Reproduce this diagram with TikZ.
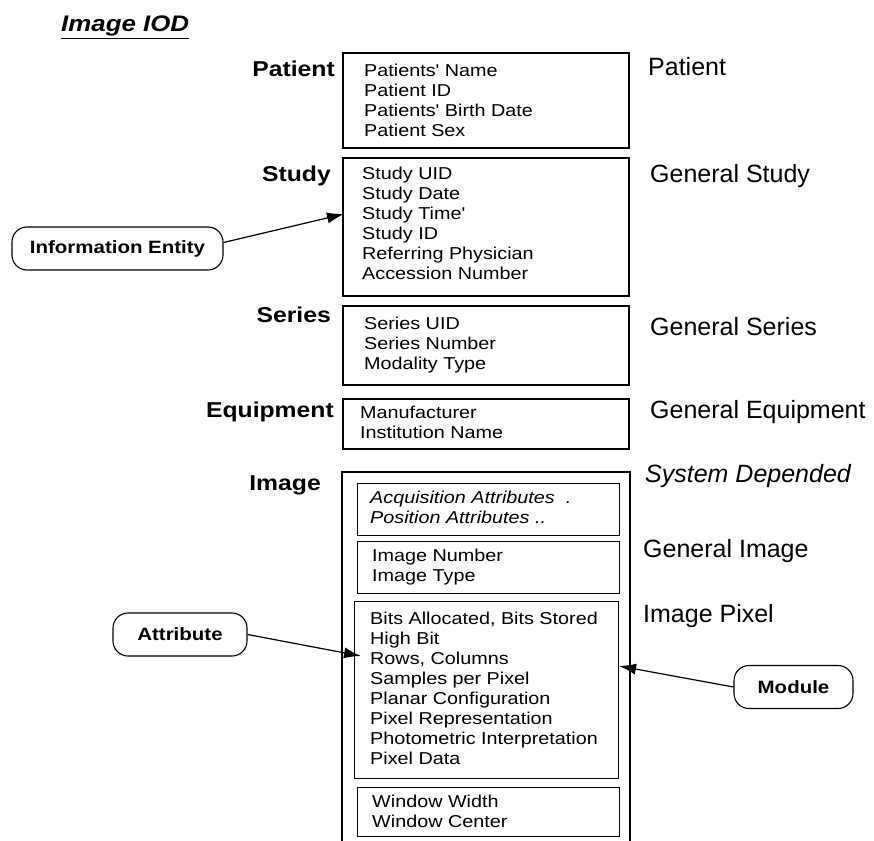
\documentclass[tikz,border=0pt]{standalone}
\usepackage{fontspec}
\setmainfont{Liberation Sans}
\newfontfamily\widefont[FakeStretch=1.15]{Liberation Sans}
\usepackage{tikz}
\usetikzlibrary{positioning}
\usetikzlibrary{arrows.meta}

\begin{document}
\begin{tikzpicture}[
          x=1pt, y=-1pt, % 以像素为单位, y 轴向下
          modbox/.style={draw, line width=1.8pt, anchor=north west, inner sep=0pt},
          subbox/.style={draw, line width=1pt, anchor=north west, inner sep=0pt},
          attrtext/.style={font=\widefont\fontsize{17.2}{20}\selectfont, align=left, inner sep=0pt},
          ielabel/.style={font=\widefont\bfseries\fontsize{21.5}{24}\selectfont, anchor=east, inner sep=0pt},
          modlabel/.style={font=\fontsize{25}{28}\selectfont, anchor=west, inner sep=0pt},
          bubble/.style={draw, rounded corners=15pt, line width=1.1pt, minimum height=43pt,
                         inner sep=0pt, font=\widefont\bfseries\fontsize{17.8}{20}\selectfont},
          pointer/.style={-{Latex[length=17pt,width=11pt]}, line width=1.2pt}
      ]
        \fill[white] (0,0) rectangle (874,840);
        \useasboundingbox (0,0) rectangle (874,840);

        % 标题
        \node[font=\widefont\bfseries\itshape\fontsize{22.5}{24}\selectfont, anchor=base west,
              inner sep=0pt] (title) at (61,32) {\underline{Image IOD}};

        % 上面四个模块框
        \node[modbox, minimum width=286pt, minimum height=95pt]  (patient) at (342,52) {};
        \node[modbox, minimum width=286pt, minimum height=138pt] (study)   at (342,157) {};
        \node[modbox, minimum width=286pt, minimum height=79pt]  (series)  at (342,305) {};
        \node[modbox, minimum width=286pt, minimum height=50pt]  (equip)   at (342,398) {};

        \node[attrtext, right=22pt of patient.west] (patienttxt)
             {Patients' Name\\Patient ID\\Patients' Birth Date\\Patient Sex};
        \node[attrtext, right=20pt of study.west, yshift=4pt] (studytxt)
             {Study UID\\Study Date\\Study Time'\\Study ID\\Referring Physician\\Accession Number};
        \node[attrtext, right=22pt of series.west] (seriestxt)
             {Series UID\\Series Number\\Modality Type};
        \node[attrtext, right=18pt of equip.west, yshift=2pt] (equiptxt)
             {Manufacturer\\Institution Name};

        % Image 大框(下边被截掉)
        \draw[line width=1.8pt] (342,845) |- (630,472) -- (630,845);
        \node[subbox, minimum width=262pt, minimum height=52pt]  (acq)    at (357,483) {};
        \node[subbox, minimum width=262pt, minimum height=52pt]  (genimg) at (357,541) {};
        \node[subbox, minimum width=264pt, minimum height=177pt] (pixel)  at (354,601) {};
        \node[subbox, minimum width=262pt, minimum height=49pt]  (window) at (357,787) {};

        \node[attrtext, font=\widefont\itshape\fontsize{17.2}{20}\selectfont,
              right=13pt of acq.west, yshift=2pt] (acqtxt)
             {Acquisition Attributes\ \ .\\Position Attributes ..};
        \node[attrtext, right=15pt of genimg.west] (genimgtxt)
             {Image Number\\Image Type};
        \node[attrtext, right=16pt of pixel.west, yshift=2pt] (pixeltxt)
             {Bits Allocated, Bits Stored\\High Bit\\Rows, Columns\\Samples per Pixel\\%
              Planar Configuration\\Pixel Representation\\Photometric Interpretation\\Pixel Data};
        \node[attrtext, right=15pt of window.west, yshift=1pt] (windowtxt)
             {Window Width\\Window Center};

        % 左边: 信息实体名
        \node[ielabel] (iepatient) at (335,69)  {Patient};
        \node[ielabel] (iestudy)   at (331,176) {Study};
        \node[ielabel] (ieseries)  at (331,315) {Series};
        \node[ielabel] (ieequip)   at (334,412) {Equipment};
        \node[ielabel] (ieimage)   at (321,485) {Image};

        % 右边: 模块名
        \node[modlabel] (mpatient) at (648,67)  {Patient};
        \node[modlabel] (mstudy)   at (650,176) {General Study};
        \node[modlabel] (mseries)  at (650,327) {General Series};
        \node[modlabel] (mequip)   at (650,412) {General Equipment};
        \node[modlabel, font=\itshape\fontsize{25}{28}\selectfont] (msystem) at (645,476) {System Depended};
        \node[modlabel] (mgenimg)  at (643,551) {General Image};
        \node[modlabel] (mpixel)   at (643,616) {Image Pixel};

        % 说明气泡和箭头
        \node[bubble, minimum width=211pt] (entity) at (117.5,248.5) {Information Entity};
        \node[bubble, minimum width=134pt] (attr)   at (180,634.5)   {Attribute};
        \node[bubble, minimum width=119pt] (module) at (793.5,687)   {Module};

        \coordinate (studyin)  at (344,214);
        \coordinate (pixelin)  at (361,656);
        \coordinate (pixelout) at (619,666);

        \draw[pointer] ([yshift=6pt]entity.east) -- (studyin);
        \draw[pointer] (attr.east) -- (pixelin);
        \draw[pointer] (module.west) -- (pixelout);
      \end{tikzpicture}
\end{document}
